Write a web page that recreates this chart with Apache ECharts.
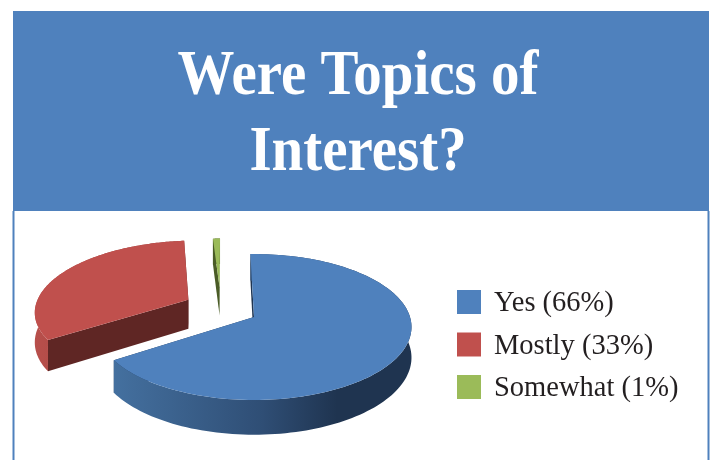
<!DOCTYPE html>
<html>
<head>
<meta charset="utf-8">
<style>html,body{margin:0;padding:0;background:#fff}#chart{width:711px;height:460px}</style>
<script src="https://cdn.jsdelivr.net/npm/echarts@6/dist/echarts.min.js"></script>
</head>
<body>
<div id="chart"></div>
<script>
// Survey answers, in percent
const answers = ['Yes', 'Mostly', 'Somewhat'];
const shares = [66, 33, 1];
const heading = 'Were Topics of\nInterest?';

// Per-slice look of the tilted, exploded pie
const looks = [
  { top: '#4f81bd', shift: [0, 0], radius: 1, inner: '#1f3552',
    wall: [[0, '#44709f'], [0.5, '#2f4e75'], [0.75, '#1f3450'], [1, '#1f3450']] },
  { top: '#c0504d', shift: [-0.435, 0.25], radius: 1, inner: '#5f2624',
    wall: [[0, '#b84f4b'], [1, '#8a3a36']] },
  { top: '#9bbb59', shift: [-0.234, 0.44], radius: 0.85, inner: '#4a5c26',
    wall: [[0, '#4a5c26'], [1, '#4a5c26']] }
];

// Projection of the pie plane onto the page
const pivot = [254, 317];
const spanX = 156, spanY = 71.6, tilt = 0.137, depth = 30, turn = -1.5;

function project(x, y, z) {
  const d = 1 + tilt * y;
  return [pivot[0] + spanX * x / d, pivot[1] - spanY * y / d + depth * z / d];
}

const total = shares.reduce((a, b) => a + b, 0);

function renderSlice(index, api) {
  const look = looks[index];
  const before = shares.slice(0, index).reduce((a, b) => a + b, 0);
  const from = turn + before / total * 360;
  const to = from + api.value(0) / total * 360;
  const rimAt = (deg, z) => {
    const r = deg * Math.PI / 180;
    return project(look.shift[0] + look.radius * Math.sin(r),
                   look.shift[1] + look.radius * Math.cos(r), z);
  };
  const hub = z => project(look.shift[0], look.shift[1], z);
  const steps = 140;
  const rimTop = [], rimLow = [];
  for (let i = 0; i <= steps; i++) {
    const deg = from + (to - from) * i / steps;
    rimTop.push(rimAt(deg, 0));
    rimLow.push(rimAt(deg, 1));
  }
  const flat = c => ({ fill: c });
  return {
    type: 'group',
    children: [
      // cut faces first, then the curved wall, then the top surface
      { type: 'polygon',
        shape: { points: [hub(0), rimAt(from, 0), rimAt(from, 1), hub(1)] },
        style: flat(look.inner) },
      { type: 'polygon',
        shape: { points: [hub(0), rimAt(to, 0), rimAt(to, 1), hub(1)] },
        style: flat(look.inner) },
      { type: 'polygon',
        shape: { points: rimTop.concat(rimLow.slice().reverse()) },
        style: { fill: new echarts.graphic.LinearGradient(0, 0, 1, 0,
          look.wall.map(s => ({ offset: s[0], color: s[1] }))) } },
      { type: 'polygon',
        shape: { points: [hub(0)].concat(rimTop) },
        style: flat(look.top) }
    ]
  };
}

const labels = answers.map((a, i) => a + ' (' + shares[i] + '%)');

const chart = echarts.init(document.getElementById('chart'), null, { renderer: 'canvas' });
chart.setOption({
  animation: false,
  backgroundColor: '#ffffff',
  graphic: [
    { type: 'rect', z: -1, shape: { x: 13, y: 11, width: 696, height: 200 }, style: { fill: '#4f81bd' } },
    { type: 'rect', z: -1, shape: { x: 12.5, y: 211, width: 2, height: 249 }, style: { fill: '#4f81bd' } },
    { type: 'rect', z: -1, shape: { x: 707.5, y: 211, width: 2, height: 249 }, style: { fill: '#4f81bd' } },
    { type: 'text', x: 358, y: 39, scaleX: 0.89,
      style: {
        text: heading,
        fill: '#ffffff',
        font: 'bold 64px "Liberation Serif"',
        lineHeight: 76,
        textAlign: 'center',
        textVerticalAlign: 'top'
      } }
  ],
  legend: {
    left: 452,
    top: 280,
    orient: 'vertical',
    icon: 'rect',
    itemWidth: 24,
    itemHeight: 24,
    itemGap: 8.5,
    data: labels,
    selectedMode: false,
    formatter: name => '{entry|' + name + '}',
    textStyle: {
      color: '#231f20',
      fontFamily: '"Liberation Serif"',
      fontSize: 28.5,
      padding: [0, 0, 0, 8],
      lineHeight: 34,
      rich: {
        entry: {
          color: '#231f20',
          fontFamily: '"Liberation Serif"',
          fontSize: 28.5,
          lineHeight: 34,
          padding: [4, 0, 0, 0]
        }
      }
    }
  },
  series: labels.map((name, i) => ({
    type: 'custom',
    name: name,
    coordinateSystem: 'none',
    itemStyle: { color: looks[i].top },
    silent: true,
    renderItem: (params, api) => renderSlice(i, api),
    data: [[shares[i]]]
  }))
});
</script>
</body>
</html>
